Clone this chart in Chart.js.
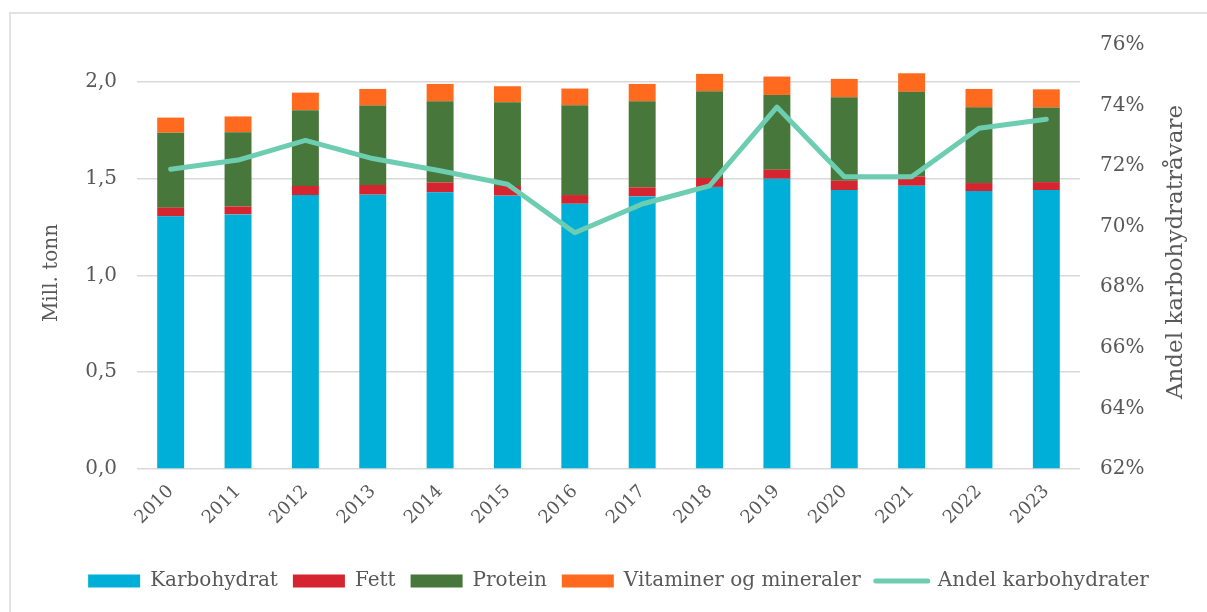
<!DOCTYPE html>
<html>
<head>
<meta charset="utf-8">
<script src="https://cdn.jsdelivr.net/npm/chart.js@4.4.1/dist/chart.umd.min.js"></script>
<style>
  body { margin: 0; background: #fff; }
  #wrap { position: relative; width: 1207px; height: 612px; overflow: hidden; }
  #frame { position: absolute; left: 9px; top: 12px; width: 1300px; height: 700px;
           border-left: 2px solid #e2e2e2; border-top: 2px solid #e2e2e2; }
  #myChart { position: absolute; left: 0; top: 0; }
</style>
</head>
<body>
<div id="wrap">
  <div id="frame"></div>
  <canvas id="myChart" width="1207" height="612"></canvas>
</div>
<script>
// data (mill. tonn / prosent)
var years = ['2010', '2011', '2012', '2013', '2014', '2015', '2016', '2017', '2018', '2019', '2020', '2021', '2022', '2023'];
var karbohydrat = [1.305, 1.315, 1.415, 1.417, 1.429, 1.412, 1.370, 1.408, 1.457, 1.499, 1.441, 1.463, 1.436, 1.441];
var fett = [0.045, 0.041, 0.047, 0.050, 0.051, 0.050, 0.045, 0.047, 0.046, 0.047, 0.048, 0.048, 0.041, 0.041];
var protein = [0.387, 0.383, 0.391, 0.410, 0.419, 0.432, 0.464, 0.444, 0.448, 0.386, 0.431, 0.437, 0.391, 0.385];
var vitaminer = [0.078, 0.082, 0.091, 0.086, 0.090, 0.083, 0.086, 0.090, 0.090, 0.095, 0.095, 0.096, 0.095, 0.094];
var andel = [71.9, 72.2, 72.85, 72.25, 71.85, 71.4, 69.8, 70.75, 71.35, 73.95, 71.65, 71.65, 73.25, 73.55];
var leftTicks = [0, 0.5, 1.0, 1.5, 2.0];
var rightTicks = [62, 64, 66, 68, 70, 72, 74, 76];

var textColor = '#595959';
var serif = "'DejaVu Serif', 'Liberation Serif', serif";

var axisTitles = {
    id: 'axisTitles',
    afterDraw: function(chart) {
        var ctx = chart.ctx;
        var area = chart.chartArea;
        ctx.save();
        ctx.fillStyle = textColor;
        ctx.font = '20px ' + serif;
        ctx.textAlign = 'center';
        ctx.textBaseline = 'middle';
        ctx.translate(52, area.top + 228);
        ctx.rotate(-Math.PI / 2);
        ctx.fillText('Mill. tonn', 0, 0);
        ctx.restore();
        ctx.save();
        ctx.fillStyle = textColor;
        ctx.font = '23px ' + serif;
        ctx.textAlign = 'center';
        ctx.textBaseline = 'middle';
        ctx.translate(1176, area.top + 207);
        ctx.rotate(-Math.PI / 2);
        ctx.fillText('Andel karbohydratråvare', 0, 0);
        ctx.restore();
    }
};

var ctx = document.getElementById('myChart').getContext('2d');
var myChart = new Chart(ctx, {
    type: 'bar',
    data: {
        labels: years,
        datasets: [
            { label: 'Karbohydrat', data: karbohydrat, backgroundColor: '#00afd7', yAxisID: 'y', order: 1 },
            { label: 'Fett', data: fett, backgroundColor: '#d42530', yAxisID: 'y', order: 1 },
            { label: 'Protein', data: protein, backgroundColor: '#47773a', yAxisID: 'y', order: 1 },
            { label: 'Vitaminer og mineraler', data: vitaminer, backgroundColor: '#ff6a1f', yAxisID: 'y', order: 1 },
            {
                type: 'line', label: 'Andel karbohydrater', data: andel, yAxisID: 'y1', order: 0,
                borderColor: '#6dcdb1', backgroundColor: '#6dcdb1', borderWidth: 5,
                borderCapStyle: 'round', borderJoinStyle: 'round',
                pointRadius: 0, tension: 0
            }
        ]
    },
    options: {
        responsive: false,
        animation: false,
        layout: { padding: { top: 45, bottom: 11, left: 30, right: 0 } },
        datasets: { bar: { barPercentage: 0.4, categoryPercentage: 1.0 } },
        plugins: {
            tooltip: { enabled: false },
            legend: {
                position: 'bottom',
                labels: {
                    color: textColor,
                    font: { family: serif, size: 20 },
                    usePointStyle: true,
                    pointStyleWidth: 52,
                    boxHeight: 13,
                    padding: 15,
                    sort: function(a, b) { return a.datasetIndex - b.datasetIndex; },
                    generateLabels: function(chart) {
                        var items = Chart.defaults.plugins.legend.labels.generateLabels(chart);
                        items.forEach(function(it) {
                            var ds = chart.data.datasets[it.datasetIndex];
                            if (ds.type === 'line') {
                                it.pointStyle = 'line';
                                it.lineWidth = 5;
                                it.lineCap = 'round';
                                it.strokeStyle = ds.borderColor;
                            } else {
                                it.pointStyle = 'rect';
                                it.lineWidth = 0;
                            }
                        });
                        return items;
                    }
                }
            }
        },
        scales: {
            x: {
                stacked: true,
                grid: { display: false },
                border: { display: false },
                ticks: {
                    color: textColor, font: { family: serif, size: 18 },
                    minRotation: 45, maxRotation: 45, padding: 4
                },
                afterFit: function(scale) { scale.height = 87; }
            },
            y: {
                stacked: true,
                position: 'left',
                min: 0,
                max: 2.19,
                afterBuildTicks: function(scale) {
                    scale.ticks = leftTicks.map(function(v) { return { value: v }; });
                },
                grid: { color: '#d9d9d9', lineWidth: 1.5, drawTicks: false },
                border: { display: false },
                ticks: {
                    color: textColor, font: { family: serif, size: 20 }, padding: 20,
                    callback: function(v) { return v.toFixed(1).replace('.', ','); }
                },
                afterFit: function(scale) { scale.width = 107; }
            },
            y1: {
                position: 'right',
                min: 62,
                max: 76,
                afterBuildTicks: function(scale) {
                    scale.ticks = rightTicks.map(function(v) { return { value: v }; });
                },
                grid: { drawOnChartArea: false, drawTicks: false },
                border: { display: false },
                ticks: {
                    color: textColor, font: { family: serif, size: 20 }, padding: 20,
                    callback: function(v) { return v + '%'; }
                },
                afterFit: function(scale) { scale.width = 127; }
            }
        }
    },
    plugins: [axisTitles]
});
</script>
</body>
</html>
